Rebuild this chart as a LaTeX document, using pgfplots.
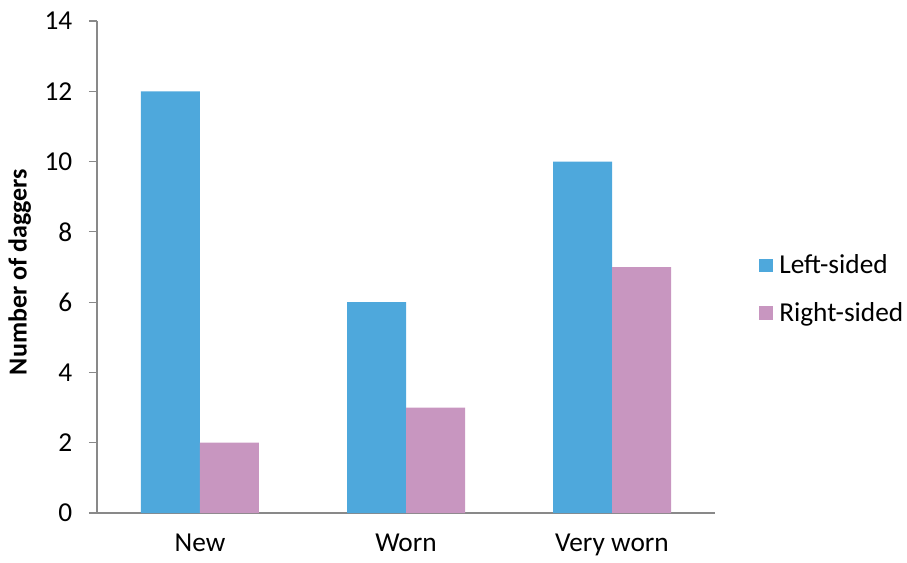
\documentclass[border=0pt]{standalone}
\usepackage{pgfplots}
\pgfplotsset{compat=1.18}
\usepackage{fontspec}
\setmainfont{Carlito}
\definecolor{lblue}{HTML}{4EA8DC}
\definecolor{lpink}{HTML}{C896C0}
\definecolor{axgray}{HTML}{898989}
\begin{document}
\begin{tikzpicture}
\useasboundingbox (-72.75pt,-36.75pt) rectangle (607.5pt,384.75pt);
\begin{axis}[
  scale only axis,
  width=463.5pt, height=369pt,
  ymin=0, ymax=14, ytick={0,2,...,14},
  xmin=-0.5, xmax=2.5,
  xtick={0,1,2},
  xticklabels={New,Worn,Very worn},
  major x tick style={draw=none},
  extra x ticks={-0.5,0.5,1.5,2.5},
  extra x tick labels={},
  extra x tick style={major tick length=6pt, tick style={draw=axgray, line width=0.9pt}, tick align=outside},
  axis x line*=bottom, axis y line*=left,
  axis line style={draw=axgray, line width=0.9pt, -},
  tick align=outside,
  major tick length=6pt,
  y tick style={draw=axgray, line width=0.9pt},
  tick label style={font=\fontsize{20.5}{24}\selectfont, text=black},
  /pgf/number format/assume math mode=true,
  yticklabel style={xshift=-9pt},
  xticklabel style={yshift=-6pt},
  ylabel={Number of daggers},
  ylabel style={font=\fontsize{19.5}{22}\selectfont\bfseries, at={(axis description cs:-0.125,0.49)}, anchor=center},
  ybar=0pt, bar width=44.25pt,
  legend style={at={(1,0.455)}, anchor=west, xshift=30pt, draw=none, fill=none,
    font=\fontsize{20.5}{24}\selectfont, row sep=16pt, legend cell align=left,
    nodes={inner xsep=5pt}},
  legend image code/.code={\fill[#1] (0pt,-5pt) rectangle (10pt,5pt);},
]
\addplot[fill=lblue, draw=none] coordinates {(0,12) (1,6) (2,10)};
\addplot[fill=lpink, draw=none] coordinates {(0,2) (1,3) (2,7)};
\legend{Left-sided, Right-sided}
\end{axis}
\end{tikzpicture}
\end{document}
